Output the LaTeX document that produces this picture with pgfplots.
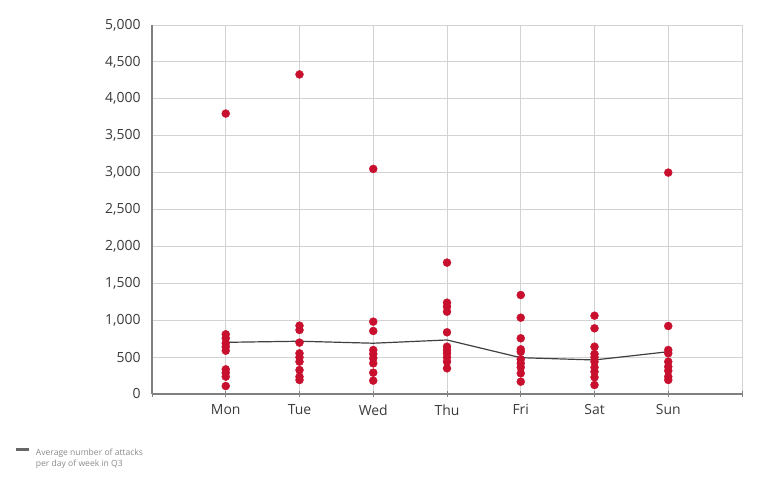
\documentclass[border=0pt]{standalone}
\usepackage{pgfplots}
\pgfplotsset{compat=1.18}
\usepackage{fontspec}
\setmainfont{Open Sans}
\definecolor{attred}{HTML}{C8102E}
\definecolor{avggray}{HTML}{404040}
\definecolor{gridgray}{HTML}{D3D3D3}
\definecolor{axisgray}{HTML}{808080}
\definecolor{labgray}{HTML}{3A3A3A}
\definecolor{leggray}{HTML}{8A8A8A}
\begin{document}
\begin{tikzpicture}[x=1bp,y=1bp]
\path[use as bounding box] (0,0) rectangle (769,482);
\begin{axis}[
  at={(152bp,88bp)}, anchor=south west,
  scale only axis, width=590bp, height=369bp,
  xmin=0, xmax=8, ymin=0, ymax=5000,
  axis x line=bottom, axis y line=left,
  axis line style={-, draw=axisgray, line width=1.4bp},
  xtick={0,...,8},
  xticklabels={,Mon,Tue,Wed,Thu,Fri,Sat,Sun,},
  ytick={0,500,...,5000},
  scaled y ticks=false,
  /pgf/number format/.cd, fixed, 1000 sep={,}, assume math mode=true,
  /pgfplots/.cd,
  grid=major,
  major grid style={draw=gridgray, line width=0.9bp},
  tick align=center,
  major tick length=6bp,
  xtick style={draw=axisgray, line width=1bp},
  ytick style={draw=none},
  ticklabel style={font=\fontsize{14}{16}\selectfont, text=labgray},
  yticklabel style={xshift=-5bp},
  xticklabel style={yshift=-4bp},
  clip=false,
  legend style={draw=none, fill=none, at={(-0.230,-0.142)}, anchor=north west,
    inner sep=0pt, outer sep=0pt,
    font=\fontsize{8.6}{10.5}\selectfont, text=leggray},
  legend cell align=left,
  legend image code/.code={\fill[avggray!80] (0bp,2.3bp) rectangle (11bp,4.2bp); \path[draw=none] (17bp,3.2bp) circle (0.01bp);},
]
\addplot[color=avggray, line width=1.2bp] coordinates {
  (1,700) (2,715) (3,688) (4,732) (5,492) (6,461) (7,573)};
\addlegendentry{\begin{tabular}[t]{@{}l@{}}Average number of attacks\\per day of week in Q3\end{tabular}}
\addplot[forget plot, only marks, mark=*, mark size=4bp, color=attred, mark options={fill=attred, draw=attred}] coordinates {
  (1,3800) (1,809) (1,755) (1,687) (1,641) (1,587) (1,334) (1,289) (1,235) (1,108)
  (2,4330) (2,926) (2,867) (2,696) (2,551) (2,497) (2,438) (2,325) (2,235) (2,190)
  (3,3050) (3,980) (3,854) (3,596) (3,542) (3,483) (3,415) (3,289) (3,181)
  (4,1780) (4,1237) (4,1183) (4,1115) (4,836) (4,641) (4,596) (4,551) (4,497) (4,438) (4,348)
  (5,1341) (5,1034) (5,755) (5,605) (5,573) (5,470) (5,415) (5,361) (5,280) (5,167)
  (6,1061) (6,890) (6,641) (6,542) (6,497) (6,438) (6,361) (6,303) (6,226) (6,122)
  (7,3000) (7,921) (7,596) (7,551) (7,438) (7,370) (7,316) (7,235) (7,190)
};
\end{axis}
\end{tikzpicture}
\end{document}
